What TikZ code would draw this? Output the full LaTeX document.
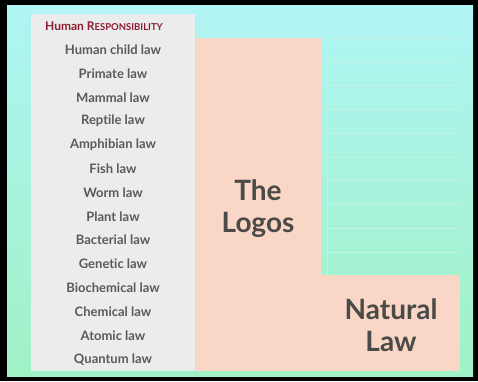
\documentclass[tikz,border=0pt]{standalone}
\usepackage{fontspec}
\setmainfont[Ligatures=NoCommon]{Lato}
\definecolor{topc}{HTML}{B0F4F4}
\definecolor{botc}{HTML}{A0F2C6}
\definecolor{grayc}{HTML}{EBECEC}
\definecolor{peach}{HTML}{F9D6C5}
\definecolor{txt}{HTML}{5A5A5A}
\definecolor{big}{HTML}{4A4A48}
\definecolor{hdr}{HTML}{8E1B30}
\definecolor{gridc}{HTML}{C6F2E6}
\begin{document}
\begin{tikzpicture}[x=1pt,y=-1pt,
  rowtxt/.style={font=\fontsize{13}{15}\selectfont\bfseries, text=txt, anchor=center, inner sep=0pt},
  bigtxt/.style={font=\fontsize{28}{32}\selectfont\bfseries, text=big, align=center, inner sep=0pt}]
\useasboundingbox (0,0) rectangle (478,381);
\fill[black] (0,0) rectangle (478,381);
\shade[top color=topc, bottom color=botc] (7,5) rectangle (473,376);
% faint grid on right
\foreach \i in {1,...,10} {
  \draw[gridc, line width=0.6pt] (327,{14+23.8*\i}) -- (460,{14+23.8*\i});
}
\draw[gridc, line width=0.6pt] (327,14) -- (327,275);
% gray column
\fill[grayc] (31,14) rectangle (195,371);
% peach blocks
\fill[peach] (195,38) rectangle (321,371);
\fill[peach] (321,275) rectangle (460,371);
% header
\node[inner sep=0pt, text=hdr, font=\fontsize{12}{14}\selectfont\bfseries] (hdr) at (104,26) {Human R{\fontsize{9.5}{11}\selectfont ESPONSIBILITY}};
\foreach \t [count=\i] in {Human child law,Primate law,Mammal law,Reptile law,Amphibian law,Fish law,Worm law,Plant law,Bacterial law,Genetic law,Biochemical law,Chemical law,Atomic law,Quantum law} {
  \node[rowtxt] (r\i) at (113,{26+23.8*\i}) {\t};
}
\node[bigtxt] (logos) at (258,209) {The\\Logos};
\node[bigtxt] (nat) at (391,325) {Natural\\Law};
\end{tikzpicture}
\end{document}
